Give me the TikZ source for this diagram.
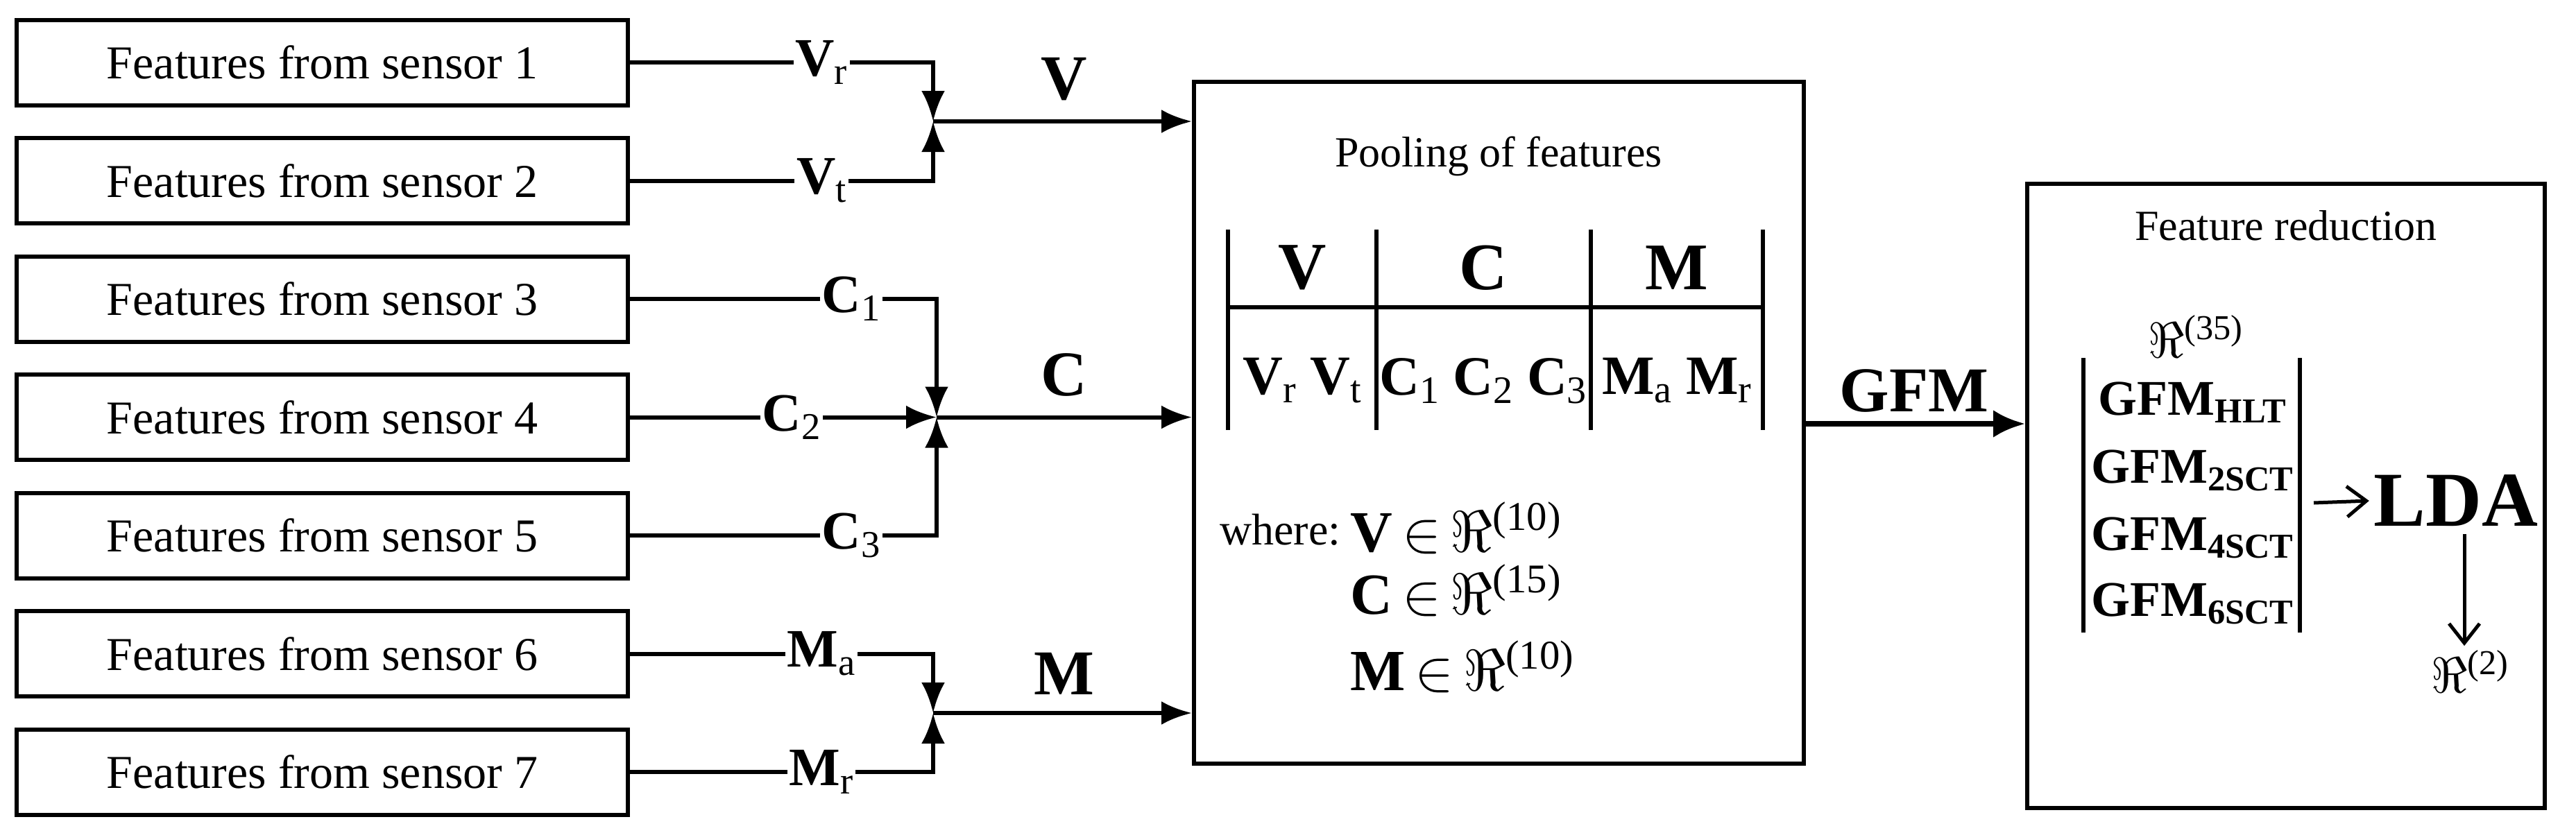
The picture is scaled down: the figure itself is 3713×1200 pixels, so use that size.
\RequirePackage{fix-cm}
\documentclass[tikz,border=0pt]{standalone}
\usepackage{fontspec}
\setmainfont{Liberation Serif}
\usetikzlibrary{arrows.meta}
\newcommand{\fs}[1]{\fontsize{#1}{#1}\selectfont}
\newcommand{\FR}{$\Re$}
\begin{document}
\begin{tikzpicture}[x=1pt,y=-1pt,line width=6pt,
  box/.style={draw,minimum width=881pt,minimum height=123pt,inner sep=0pt,font=\fs{68}},
  arr/.style={-{Latex[length=44pt,width=34pt]}},
  lab/.style={fill=white,inner sep=3pt,font=\fs{78}},
  big/.style={inner sep=0pt,font=\fs{92}\bfseries},
  barb/.style={line width=5pt,-{Straight Barb[length=28pt,width=44pt,line width=5pt]}}]
\useasboundingbox (0,0) rectangle (3713,1200);
\foreach \i/\y in {1/90,2/260.5,3/431,4/601.5,5/772,6/942.5,7/1113}
  \node[box] (s\i) at (464.5,\y) {Features from sensor \i};
\node[draw,minimum width=879pt,minimum height=983pt,inner sep=0pt] (pool) at (2160.5,609.5) {};
\node[draw,minimum width=746pt,minimum height=900pt,inner sep=0pt] (fr) at (3295,715) {};
\coordinate (jV) at (1345,175);
\coordinate (jC) at (1350,601.5);
\coordinate (jM) at (1345,1028);
% V group
\draw[arr] (s1.east) -| (jV);
\draw[arr] (s2.east) -| (jV);
\draw[arr] (jV) -- (jV -| pool.west);
\node[lab] (lvr) at (1184,90) {\textbf{V}\textsubscript{r}};
\node[lab] (lvt) at (1184,260.5) {\textbf{V}\textsubscript{t}};
\node[big] (lV) at (1534,114) {V};
% C group
\draw[arr] (s3.east) -| (jC);
\draw[arr] (s4.east) -- (jC);
\draw[arr] (s5.east) -| (jC);
\draw[arr] (jC) -- (jC -| pool.west);
\node[lab] (lc1) at (1227,431) {\textbf{C}\textsubscript{1}};
\node[lab] (lc2) at (1141,601.5) {\textbf{C}\textsubscript{2}};
\node[lab] (lc3) at (1227,772) {\textbf{C}\textsubscript{3}};
\node[big] (lC) at (1534,540) {C};
% M group
\draw[arr] (s6.east) -| (jM);
\draw[arr] (s7.east) -| (jM);
\draw[arr] (jM) -- (jM -| pool.west);
\node[lab] (lma) at (1184,942.5) {\textbf{M}\textsubscript{a}};
\node[lab] (lmr) at (1184,1113) {\textbf{M}\textsubscript{r}};
\node[big] (lM) at (1534,971) {M};
% pooling
\node[font=\fs{62}] (pt) at (2160,225) {Pooling of features};
\draw (1770,331) -- (1770,620);
\draw (1984,331) -- (1984,620);
\draw (2293,331) -- (2293,620);
\draw (2541,331) -- (2541,620);
\draw (1770,443) -- (2541,443);
\node[font=\fs{96}\bfseries] (hV) at (1877,386) {V};
\node[font=\fs{96}\bfseries] (hC) at (2138,386) {C};
\node[font=\fs{96}\bfseries] (hM) at (2417,386) {M};
\node[font=\fs{80}] (rV) at (1877,549) {\textbf{V}\textsubscript{r} \textbf{V}\textsubscript{t}};
\node[font=\fs{80}] (rC) at (2138,549) {\textbf{C}\textsubscript{1} \textbf{C}\textsubscript{2} \textbf{C}\textsubscript{3}};
\node[font=\fs{80}] (rM) at (2417,549) {\textbf{M}\textsubscript{a} \textbf{M}\textsubscript{r}};
\node[font=\fs{64},anchor=base west] (wh) at (1752,785) {where:};
\node[font=\fs{84},anchor=base west] (eV) at (1940,795) {\textbf{V}\,$\in$\,\FR\textsuperscript{(10)}};
\node[font=\fs{84},anchor=base west] (eC) at (1940,885) {\textbf{C}\,$\in$\,\FR\textsuperscript{(15)}};
\node[font=\fs{84},anchor=base west] (eM) at (1940,995) {\textbf{M}\,$\in$\,\FR\textsuperscript{(10)}};
% GFM
\draw[line width=8pt,-{Latex[length=46pt,width=40pt]}] (pool.east |- 0,611) -- (fr.west |- 0,611);
\node[font=\fs{92}\bfseries] (gfm) at (2759,563) {GFM};
% feature reduction
\node[font=\fs{62}] (frt) at (3295,325) {Feature reduction};
\node[font=\fs{72}] (r35) at (3165,485) {\FR\textsuperscript{(35)}};
\draw (3003,516) -- (3003,912);
\draw (3315,516) -- (3315,912);
\node[font=\fs{72}\bfseries] (g1) at (3160,580) {GFM\textsubscript{HLT}};
\node[font=\fs{72}\bfseries] (g2) at (3160,678) {GFM\textsubscript{2SCT}};
\node[font=\fs{72}\bfseries] (g3) at (3160,775) {GFM\textsubscript{4SCT}};
\node[font=\fs{72}\bfseries] (g4) at (3160,870) {GFM\textsubscript{6SCT}};
\node[font=\fs{112}\bfseries,inner sep=4pt] (lda) at (3540,722) {LDA};
\node[font=\fs{72}] (r2) at (3560,968) {\FR\textsuperscript{(2)}};
\draw[barb] (3335,725) -- (lda.west);
\draw[barb] (3552,770) -- (r2.north -| 3552,0);
\end{tikzpicture}
\end{document}
